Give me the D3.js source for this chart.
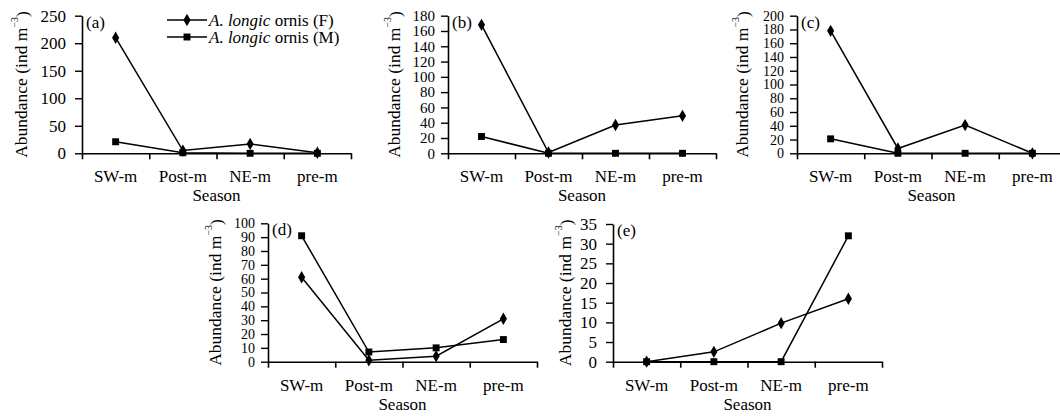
<!DOCTYPE html>
<html>
<head>
<meta charset="utf-8">
<script src="https://cdn.jsdelivr.net/npm/d3@7"></script>
<style>
body { margin: 0; background: #fff; }
svg { display: block; }
</style>
</head>
<body>
<svg id="chart" width="1060" height="416" style="font-family: 'DejaVu Serif', 'Liberation Serif', serif;"></svg>
<script>
var seasons = ["SW-m", "Post-m", "NE-m", "pre-m"];

var femaleA = [210, 5, 17, 1],    maleA = [21, 1, 0, 0];
var femaleB = [168, 1, 37, 49],   maleB = [22, 0, 0, 0];
var femaleC = [178, 7, 41, 0],    maleC = [21, 0, 0, 0];
var femaleD = [61, 1, 4, 31],     maleD = [91, 7, 10, 16];
var femaleE = [0, 2.5, 9.8, 16],  maleE = [0, 0, 0, 32];

var ticksA = [0, 50, 100, 150, 200, 250];
var ticksB = [0, 20, 40, 60, 80, 100, 120, 140, 160, 180];
var ticksC = [0, 20, 40, 60, 80, 100, 120, 140, 160, 180, 200];
var ticksD = [0, 10, 20, 30, 40, 50, 60, 70, 80, 90, 100];
var ticksE = [0, 5, 10, 15, 20, 25, 30, 35];

var legendNames = ["F", "M"];

var svg = d3.select("#chart");
var serif = "'Liberation Serif', 'DejaVu Serif', serif";

// panel placement
var panels = [
    {tag: "(a)", f: femaleA, m: maleA, ticks: ticksA, x0: 82,  x1: 351,  top: 15.7,  bot: 153.3, titleX: 21,  fs: 17},
    {tag: "(b)", f: femaleB, m: maleB, ticks: ticksB, x0: 448, x1: 716,  top: 15.7,  bot: 153.3, titleX: 394, fs: 15},
    {tag: "(c)", f: femaleC, m: maleC, ticks: ticksC, x0: 797, x1: 1066, top: 15.7,  bot: 153.3, titleX: 742, fs: 14},
    {tag: "(d)", f: femaleD, m: maleD, ticks: ticksD, x0: 268, x1: 537,  top: 223.3, bot: 361.7, titleX: 215, fs: 14},
    {tag: "(e)", f: femaleE, m: maleE, ticks: ticksE, x0: 613, x1: 882,  top: 224,   bot: 361.7, titleX: 565, fs: 17}
];

var diamond = d3.symbol().type(d3.symbolDiamond).size(44);
var square = d3.symbol().type(d3.symbolSquare).size(48);

panels.forEach(function(p) {
    var g = svg.append("g");

    var x = d3.scaleBand().domain(seasons).range([p.x0, p.x1]).paddingInner(0).paddingOuter(0);
    var xEdge = d3.scaleLinear().domain([0, seasons.length]).range([p.x0, p.x1]);
    var y = d3.scaleLinear().domain([0, d3.max(p.ticks)]).range([p.bot, p.top]);

    // y axis
    var ya = g.append("g")
        .attr("transform", "translate(" + p.x0 + ",0)")
        .call(d3.axisLeft(y).tickValues(p.ticks).tickSize(7).tickPadding(p.fs < 17 ? 6 : 9).tickSizeOuter(0));
    ya.attr("font-size", null);
    ya.select(".domain").attr("stroke-width", 1.6);
    ya.selectAll(".tick line").attr("stroke-width", 1.4);
    ya.selectAll("text").style("font-family", serif).attr("font-size", p.fs).attr("fill", "#000");

    // x axis: tick marks at category edges
    var xa = g.append("g")
        .attr("transform", "translate(0," + p.bot + ")")
        .call(d3.axisBottom(xEdge).tickValues(d3.range(seasons.length + 1)).tickSize(6).tickSizeOuter(0).tickFormat(""));
    xa.select(".domain").attr("stroke-width", 1.6);
    xa.selectAll(".tick line").attr("stroke-width", 1.6);

    g.selectAll(".cat")
        .data(seasons)
        .enter().append("text")
        .style("font-family", serif)
        .attr("x", function(d) { return x(d) + x.bandwidth() / 2; })
        .attr("y", p.bot + 29)
        .attr("text-anchor", "middle")
        .attr("font-size", 17)
        .text(function(d) { return d; });

    g.append("text")
        .style("font-family", serif)
        .attr("x", (p.x0 + p.x1) / 2)
        .attr("y", p.bot + 48)
        .attr("text-anchor", "middle")
        .attr("font-size", 17)
        .text("Season");

    // y title
    var t = g.append("text")
        .style("font-family", serif)
        .attr("transform", "translate(" + p.titleX + "," + ((p.top + p.bot) / 2) + ") rotate(-90)")
        .attr("text-anchor", "middle")
        .attr("dy", "0.35em")
        .attr("font-size", 17.5);
    t.append("tspan").text("Abundance (ind m");
    t.append("tspan").attr("font-size", 10).attr("dy", "-0.9em").text("\u22123");
    t.append("tspan").attr("dy", "0.55em").text(")");

    g.append("text")
        .style("font-family", serif)
        .attr("x", p.x0 + 4)
        .attr("y", p.top + 12)
        .attr("font-size", 17)
        .text(p.tag);

    var line = d3.line()
        .x(function(d, i) { return x(seasons[i]) + x.bandwidth() / 2; })
        .y(function(d) { return y(d); });

    [p.m, p.f].forEach(function(vals, k) {
        g.append("path")
            .datum(vals)
            .attr("fill", "none")
            .attr("stroke", "#000")
            .attr("stroke-width", 1.5)
            .attr("d", line);
        g.selectAll(".pt" + k)
            .data(vals)
            .enter().append("path")
            .attr("transform", function(d, i) {
                return "translate(" + (x(seasons[i]) + x.bandwidth() / 2) + "," + y(d) + ")";
            })
            .attr("d", k === 0 ? square : diamond)
            .attr("fill", "#000");
    });
});

// legend in panel (a)
var leg = svg.append("g");
legendNames.forEach(function(name, i) {
    var ly = 20 + i * 17;
    leg.append("line")
        .attr("x1", 167).attr("x2", 207)
        .attr("y1", ly).attr("y2", ly)
        .attr("stroke", "#000").attr("stroke-width", 1.5);
    leg.append("path")
        .attr("transform", "translate(187," + ly + ")")
        .attr("d", i === 0 ? diamond : square)
        .attr("fill", "#000");
    var lt = leg.append("text")
        .style("font-family", serif)
        .attr("x", 209)
        .attr("y", ly + 5.5)
        .attr("font-size", 17);
    lt.append("tspan").attr("font-style", "italic").text("A. longic");
    lt.append("tspan").text(" ornis (" + name + ")");
});
</script>
</body>
</html>
